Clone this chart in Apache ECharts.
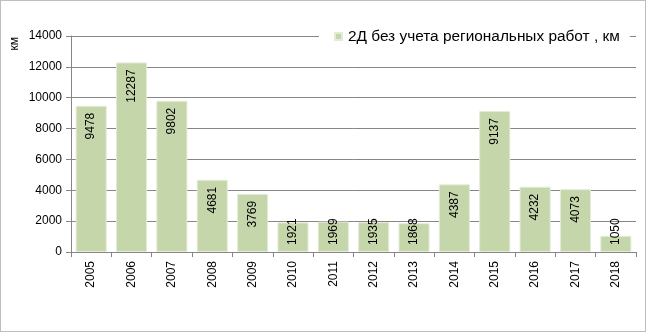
<!DOCTYPE html>
<html>
<head>
<meta charset="utf-8">
<script src="https://cdn.jsdelivr.net/npm/echarts@6/dist/echarts.min.js"></script>
<style>
  html, body { margin: 0; padding: 0; background: #fff; }
  #frame { position: absolute; left: 0; top: 0; width: 644px; height: 330px; border: 1px solid #BEBEBE; }
  #chart { width: 644px; height: 330px; }
</style>
</head>
<body>
<div id="frame"><div id="chart"></div></div>
<script>
// Годы и объёмы 2Д сейсморазведки (км)
const years = ['2005','2006','2007','2008','2009','2010','2011','2012','2013','2014','2015','2016','2017','2018'];
const kmValues = [9478, 12287, 9802, 4681, 3769, 1921, 1969, 1935, 1868, 4387, 9137, 4232, 4073, 1050];
const seriesName = '2Д без учета региональных работ , км';
const yAxisName = 'км';

const chart = echarts.init(document.getElementById('chart'));
const font = 'Liberation Sans, Arial, sans-serif';

// Short bars cannot hold the label under their top edge,
// so their label sits at the bottom of the bar instead.
const shortBarLimit = 2600;
const barData = kmValues.map(v => v < shortBarLimit
  ? { value: v, label: { position: 'insideBottom', align: 'left', distance: 7 } }
  : v);

chart.setOption({
  animation: false,
  textStyle: { fontFamily: font },
  grid: { left: 70, right: 9, top: 35, bottom: 79 },
  legend: {
    data: [seriesName],
    left: 318,
    top: 23,
    padding: [5, 10, 5, 15],
    backgroundColor: '#fff',
    itemWidth: 7,
    itemHeight: 7,
    icon: 'rect',
    itemGap: 4,
    textStyle: { fontFamily: font, fontSize: 15.4, color: '#000', padding: [0, 0, 0, 1] }
  },
  graphic: [{
    type: 'text',
    left: 8,
    top: 36,
    rotation: Math.PI / 2,
    style: { text: yAxisName, font: '12px ' + font, fill: '#000' }
  }],
  xAxis: {
    type: 'category',
    data: years,
    axisLine: { lineStyle: { color: '#868686', width: 1 } },
    axisTick: { show: true, length: 5, lineStyle: { color: '#868686' } },
    axisLabel: { rotate: 90, fontSize: 12, color: '#000', margin: 9, fontFamily: font }
  },
  yAxis: {
    type: 'value',
    min: 0,
    max: 14000,
    interval: 2000,
    axisLine: { show: true, lineStyle: { color: '#868686', width: 1 } },
    axisTick: { show: true, length: 5, lineStyle: { color: '#868686' } },
    axisLabel: { fontSize: 12, color: '#000', margin: 9, fontFamily: font, formatter: v => String(v) },
    splitLine: { lineStyle: { color: '#868686', width: 1 } }
  },
  series: [{
    name: seriesName,
    type: 'bar',
    data: barData,
    barCategoryGap: '23%',
    itemStyle: { color: '#C5D6AB', borderColor: '#E4ECD8', borderWidth: 1 },
    label: {
      show: true,
      position: 'insideTop',
      rotate: 90,
      align: 'right',
      verticalAlign: 'middle',
      distance: 7,
      fontSize: 12,
      color: '#000',
      fontFamily: font
    }
  }]
});
</script>
</body>
</html>
